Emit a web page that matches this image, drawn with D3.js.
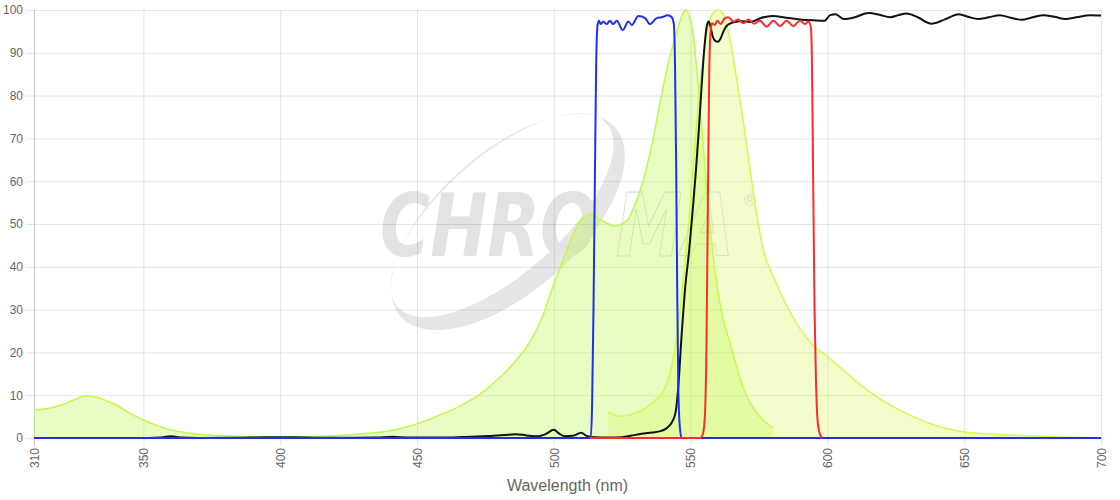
<!DOCTYPE html>
<html>
<head>
<meta charset="utf-8">
<title>Spectra</title>
<script src="https://d3js.org/d3.v7.min.js"></script>
<style>
  body { margin: 0; background: #fff; }
  text { font-family: "Liberation Sans", Arial, sans-serif; }
</style>
</head>
<body>
<div id="chart"></div>
<script>
// tick values
var xTicks = [310, 350, 400, 450, 500, 550, 600, 650, 700];
var yTicks = [0, 10, 20, 30, 40, 50, 60, 70, 80, 90, 100];

// fluorophore excitation spectrum [nm, %]
var excitation = [[310,6.6],[315,6.9],[320,7.7],[325,9],[329,9.9],[333,9.5],[337,8.5],[340,7.7],[345,5.8],[350,4.2],
  [355,2.9],[360,1.9],[365,1.3],[370,0.9],[380,0.5],[390,0.3],[400,0.2],[410,0.3],[420,0.55],[430,1.0],[440,1.7],
  [445,2.4],[450,3.3],[455,4.5],[460,5.8],[465,7.2],[470,9],[475,11.2],[480,14],[485,17.3],[490,21.3],[495,27],
  [500,36],[503,41],[506,46],[509,50],[512,52],[514,52.3],[516,51.5],[519,50.3],[522,49.5],[524,49.8],[527,51],
  [530,55],[533,61],[536,69],[539,79],[542,88],[545,95],[547,99],[548,100],[549,99.5],[550,97.5],[551,94],[552,88],
  [553,81],[554,73],[555,65],[556,57],[557,50],[558,44],[559,38.5],[560,34],[562,27.5],[564,23],[566,18.5],
  [568,14],[570,10.5],[572,8],[575,5.2],[578,3.3],[580,2.3]];

// fluorophore emission spectrum
var emission = [[520,6.0],[522,5.4],[525,5.1],[528,5.4],[531,6.2],[534,7.2],[537,8.8],[540,11],[542,14],[543.5,18],
  [545,24],[546.5,32],[548,41],[549.5,52],[551,64],[552.5,76],[554,86],[555.5,93],[557,97.5],[558.5,99.5],[560,100],
  [561.5,99.4],[563,97],[565,91],[567,83],[569,75],[571,66],[573,57],[575,49],[576.5,44],[578,41],[580,38],
  [585,31],[590,25.5],[595,21.5],[600,19],[605,16.3],[610,13.5],[615,11],[620,8.8],[625,7],[630,5.4],[635,4],
  [640,2.8],[645,2],[650,1.4],[655,1.1],[660,0.9],[665,0.7],[670,0.6],[675,0.45],[680,0.35],[685,0.25],
  [690,0.15],[695,0.1],[700,0.05]];

// excitation filter
var exFilter = [[310,0],[513.5,0],[514,8],[514.5,30],[515,60],[515.5,88],[516,96.5],[516.5,97.5],[517.1,96.7],
  [518.1,97.3],[519.3,96.7],[520.5,97.5],[521.7,96.7],[523,97.5],[525.2,95.3],[527.2,97.3],[528.5,96.5],
  [530.9,98.6],[533.4,98.1],[535.1,96.7],[537.6,98.1],[539.4,98.3],[541.6,98.8],[543.1,98.3],[543.9,96.5],
  [544.3,87],[544.7,65],[545.1,35],[545.5,12],[546,3],[546.7,0],[700,0]];

// emission filter
var emFilter = [[513,0],[553.5,0],[554.5,1],[555.2,5],[555.8,22],[556.3,55],[556.8,85],[557.3,95],[557.8,96.9],
  [558.9,96.5],[559.7,97.5],[561,96.7],[562.5,98.1],[563.8,98.3],[565.6,97.3],[567.4,97.8],[569.3,96.9],
  [571.1,97.8],[573.2,96.8],[575.3,97.5],[577.8,96.1],[580.2,97.5],[582.7,96.2],[585.1,97.5],[587.5,96.2],
  [590,97.5],[591.8,96.7],[593,97.3],[593.9,96.1],[594.3,90],[594.8,60],[595.3,30],[595.8,14],[596.3,5],
  [597,1.5],[598,0]];

// dichroic mirror
var dichroic = [[310,0],[352,0],[356,0.1],[360,0.4],[364,0.1],[370,0],[385,0.05],[395,0.15],[405,0.15],[415,0.05],
  [435,0.1],[441,0.3],[447,0.1],[460,0.1],[470,0.3],[478,0.5],[482,0.7],[486,0.9],[490,0.6],[494,0.4],[497,0.9],
  [500,1.9],[502,1.0],[504,0.4],[507,0.5],[510,1.2],[512,0.5],[515,0.15],[520,0.1],[525,0.2],[528,0.5],[532,1.0],
  [536,1.3],[539,1.6],[541,2.2],[543,3.5],[544.5,6],[545.5,12],[546.5,22],[548,35],[549.5,44],[551,55],[552,63],
  [553,72],[554,82],[555,91],[556,96.5],[556.6,97.3],[557.3,96],[558,94],[559,92.8],[560,92.6],[561,93.4],
  [562,95],[563,96.2],[565,97],[568,97.4],[572,97.2],[576,98.2],[580,98.6],[585,98.2],[590,97.8],[595,97.6],
  [599,97.5],[601,98.8],[603,99],[606,97.9],[610,98.3],[615,99.3],[619,98.9],[623,98.3],[626,98.8],[629,99.2],
  [633,98.3],[638,96.8],[643,97.8],[648,99],[652,98.3],[655,97.9],[659,98.3],[663,98.8],[667,98.2],[671,97.7],
  [675,98.3],[679,98.8],[683,98.4],[687,97.9],[691,98.3],[696,98.8],[700,98.7]];

var margin = {top: 10, right: 19, bottom: 62, left: 34},
    width = 1120 - margin.left - margin.right,
    height = 500 - margin.top - margin.bottom;

var svg = d3.select("#chart")
  .append("svg")
    .attr("width", width + margin.left + margin.right)
    .attr("height", height + margin.top + margin.bottom)
  .append("g")
    .attr("transform", "translate(" + margin.left + "," + margin.top + ")");

var x = d3.scaleLinear().domain([310, 700]).range([0, width]);
var y = d3.scaleLinear().domain([0, 100]).range([height, 0]);

// watermark (logo behind the plot)
function ellipsePath(cx, cy, rx, ry) {
  return "M" + (cx - rx) + "," + cy +
    "a" + rx + "," + ry + " 0 1,0 " + (2 * rx) + ",0" +
    "a" + rx + "," + ry + " 0 1,0 " + (-2 * rx) + ",0Z";
}
var wm = svg.append("g");
wm.append("g")
    .attr("transform", "translate(474,212) rotate(-41.3)")
  .append("path")
    .attr("d", ellipsePath(0, 0, 143, 70) + ellipsePath(0, -9, 139, 59))
    .attr("fill-rule", "evenodd")
    .attr("fill", "#e6e6e6");
wm.append("text")
    .attr("x", 346)
    .attr("y", 246)
    .attr("textLength", 218)
    .attr("lengthAdjust", "spacingAndGlyphs")
    .style("font-family", "'DejaVu Sans', sans-serif")
    .style("font-size", "88px")
    .style("font-weight", "bold")
    .style("font-style", "italic")
    .attr("fill", "#e3e3e3")
    .text("CHRO");
wm.append("text")
    .attr("x", 582)
    .attr("y", 246)
    .attr("textLength", 118)
    .attr("lengthAdjust", "spacingAndGlyphs")
    .style("font-family", "'DejaVu Sans', sans-serif")
    .style("font-size", "88px")
    .style("font-weight", "bold")
    .style("font-style", "italic")
    .attr("fill", "none")
    .attr("stroke", "#dedede")
    .attr("stroke-width", 1.2)
    .text("MA");
wm.append("text")
    .attr("x", 716)
    .attr("y", 196)
    .attr("text-anchor", "middle")
    .style("font-size", "17px")
    .attr("fill", "#e0e0e0")
    .text("®");

// grid + axes
var xAxis = svg.append("g")
    .attr("transform", "translate(0," + (height + 8) + ")")
    .call(d3.axisBottom(x).tickValues(xTicks).tickSize(-(height + 8)).tickPadding(2));
xAxis.select(".domain").remove();
xAxis.selectAll(".tick line").attr("stroke", function (d) { return d === 310 ? "rgba(0,0,0,0.22)" : "rgba(0,0,0,0.1)"; });
xAxis.selectAll(".tick text")
    .attr("transform", "rotate(-90)")
    .attr("x", -2)
    .attr("y", 0)
    .attr("dy", "0.35em")
    .style("text-anchor", "end")
    .style("font-size", "12px")
    .attr("fill", "#666");

var yAxis = svg.append("g")
    .attr("transform", "translate(-8,0)")
    .call(d3.axisLeft(y).tickValues(yTicks).tickSize(-(width + 8)).tickPadding(3));
yAxis.select(".domain").remove();
yAxis.selectAll(".tick line").attr("stroke", "rgba(0,0,0,0.1)");
yAxis.selectAll(".tick text")
    .style("font-size", "12px")
    .attr("fill", "#666");

// x axis title
svg.append("text")
    .attr("text-anchor", "middle")
    .attr("x", width / 2)
    .attr("y", height + 53)
    .style("font-size", "16px")
    .attr("fill", "#666")
    .text("Wavelength (nm)");

// spectra
var area = d3.area()
    .x(function (d) { return x(d[0]); })
    .y0(y(0))
    .y1(function (d) { return y(d[1]); })
    .curve(d3.curveMonotoneX);
var line = d3.line()
    .x(function (d) { return x(d[0]); })
    .y(function (d) { return y(d[1]); })
    .curve(d3.curveMonotoneX);

svg.append("path").datum(excitation).attr("d", area).attr("fill", "rgba(180,245,60,0.3)");
svg.append("path").datum(excitation).attr("d", line).attr("fill", "none")
    .attr("stroke", "#bff94a").attr("stroke-width", 1.5);
svg.append("path").datum(emission).attr("d", area).attr("fill", "rgba(215,250,85,0.3)");
svg.append("path").datum(emission).attr("d", line).attr("fill", "none")
    .attr("stroke", "#d2fb48").attr("stroke-width", 1.5);

svg.append("path").datum(dichroic).attr("d", line).attr("fill", "none")
    .attr("stroke", "#111").attr("stroke-width", 2);
svg.append("path").datum(exFilter).attr("d", line).attr("fill", "none")
    .attr("stroke", "#2030f0").attr("stroke-width", 2);
svg.append("path").datum(emFilter).attr("d", line).attr("fill", "none")
    .attr("stroke", "#ff2a2a").attr("stroke-width", 2);
</script>
</body>
</html>
